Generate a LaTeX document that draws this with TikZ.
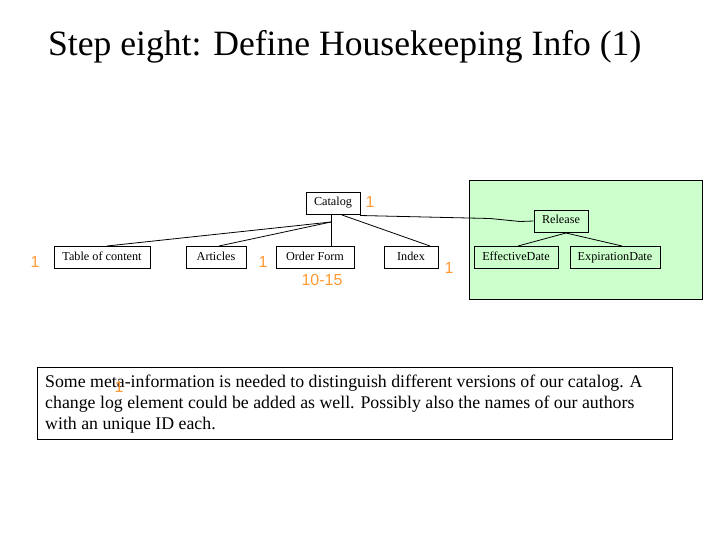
\documentclass[tikz,border=0pt]{standalone}
\usepackage{fontspec}
\setmainfont{Liberation Serif}
\newfontfamily\lblfont{Liberation Sans}
\definecolor{lblorange}{HTML}{FF9933}
\definecolor{relgreen}{HTML}{CCFFCC}
\begin{document}
\begin{tikzpicture}[x=1pt,y=-1pt,
  elem/.style={draw,line width=0.8pt,inner sep=0pt,minimum height=22pt,text height=8.5pt,text depth=2.5pt,font=\fontsize{12.2}{14}\selectfont},
  card/.style={text=lblorange,font=\lblfont\fontsize{16}{18}\selectfont,inner sep=0pt},
  link/.style={line width=0.8pt}]
\useasboundingbox (0,0) rectangle (720,540);
\node[anchor=west,inner sep=0pt,font=\fontsize{35.6}{40}\selectfont] (title) at (48,46.5) {Step eight: Define Housekeeping Info (1)};
\node[draw,line width=0.8pt,fill=relgreen,minimum width=233pt,minimum height=119pt,inner sep=0pt] (grp) at (585.5,239.5) {};
\node[elem,minimum width=54pt] (cat) at (333,203) {Catalog};
\node[elem,minimum width=96pt] (toc) at (102,257) {Table of content};
\node[elem,minimum width=60pt] (art) at (216,257) {Articles};
\node[elem,minimum width=78pt] (ord) at (315,257) {Order Form};
\node[elem,minimum width=54pt] (idx) at (411,257) {Index};
\node[elem,minimum width=54pt] (rel) at (561,221) {Release};
\node[elem,minimum width=84pt] (eff) at (516,257) {EffectiveDate};
\node[elem,minimum width=90pt] (exp) at (615,257) {ExpirationDate};
\coordinate (hub) at (331,222);
\coordinate (rhub) at (566,233);
\coordinate (ihub) at (342,215);
\draw[link] (107,246) -- (hub);
\draw[link] (219,246) -- (hub);
\draw[link] (cat.south -| hub) -- (ord.north -| hub);
\draw[link] (ihub) -- (430,246);
\draw[link] (rhub) -- (518,246);
\draw[link] (rhub) -- (622,246);
\draw[link] (360,215.5) -- (490,218.5) -- (520,221.5) -- (rel.west);
\node[card] (n1) at (370,202) {1};
\node[card] (n2) at (35,262) {1};
\node[card] (n3) at (263,262) {1};
\node[card] (n4) at (449,268) {1};
\node[card] (n5) at (322,280) {10-15};
\node[draw,line width=0.8pt,anchor=north west,minimum width=635pt,minimum height=72pt,inner sep=0pt] (txt) at (37,367) {};
\node[anchor=north west,inner sep=0pt,align=left,font=\fontsize{17.8}{21}\selectfont] (body) at (45,375) {Some meta-information is needed to distinguish different versions of our catalog. A\\change log element could be added as well. Possibly also the names of our authors\\with an unique ID each.};
\node[card] (n6) at (119,387) {1};
\end{tikzpicture}
\end{document}
